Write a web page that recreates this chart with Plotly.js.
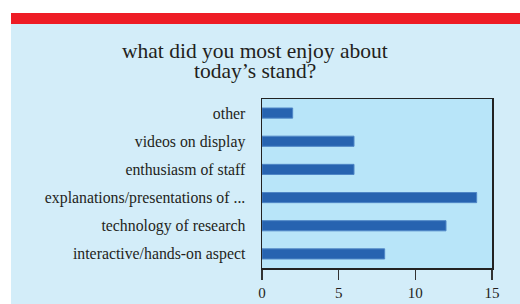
<!DOCTYPE html>
<html>
<head>
<meta charset="utf-8">
<script src="https://cdn.plot.ly/plotly-3.0.1.min.js"></script>
<style>
html,body{margin:0;padding:0;background:#fff;}
#wrap{position:relative;width:520px;height:304px;background:#fff;overflow:hidden;}
#band{position:absolute;left:11px;top:13px;width:509px;height:11px;background:#ee1c25;}
#chart{position:absolute;left:11px;top:24px;width:509px;height:280px;}
</style>
</head>
<body>
<div id="wrap"><div id="band"></div><div id="chart"></div></div>
<script>
const categories = [
  "interactive/hands-on aspect",
  "technology of research",
  "explanations/presentations of ...",
  "enthusiasm of staff",
  "videos on display",
  "other"
];
const counts = [8, 12, 14, 6, 6, 2];
const xTickValues = [0, 5, 10, 15];
const titleLines = ["what did you most enjoy about", "today\u2019s stand?"];

const serif = "Liberation Serif, Times New Roman, serif";

const trace = {
  type: "bar",
  orientation: "h",
  y: categories,
  x: counts,
  marker: {color: "#2763b0", line: {color: "#4f86c6", width: 1}},
  hoverinfo: "none"
};

const titleY = [1.284, 1.166];
const annotations = titleLines.map((t, i) => ({
  text: t,
  xref: "paper", yref: "paper",
  x: -0.0283, y: titleY[i],
  xanchor: "center", yanchor: "middle",
  borderpad: 0,
  showarrow: false,
  font: {family: serif, size: 21.5, color: "#231f20"}
}));

const layout = {
  width: 509,
  height: 280,
  paper_bgcolor: "#d3edf9",
  plot_bgcolor: "#b8e5f9",
  margin: {l: 251, r: 28, t: 75, b: 36},
  bargap: 0.64,
  showlegend: false,
  annotations: annotations,
  font: {family: serif, size: 15.8, color: "#231f20"},
  xaxis: {
    range: [0, 15],
    tickvals: xTickValues,
    ticks: "outside",
    ticklen: 10,
    tickwidth: 1.2,
    tickcolor: "#333",
    showgrid: false,
    zeroline: false,
    showline: true,
    linecolor: "#222",
    linewidth: 1.5,
    mirror: true,
    tickfont: {size: 15}
  },
  yaxis: {
    categoryorder: "array",
    categoryarray: categories,
    ticks: "outside",
    ticklen: 12,
    tickcolor: "rgba(0,0,0,0)",
    showgrid: false,
    zeroline: false,
    showline: true,
    linecolor: "#222",
    linewidth: 1.5,
    mirror: true,
    tickfont: {size: 15.8}
  }
};

Plotly.newPlot("chart", [trace], layout, {staticPlot: true, displayModeBar: false});
</script>
</body>
</html>
